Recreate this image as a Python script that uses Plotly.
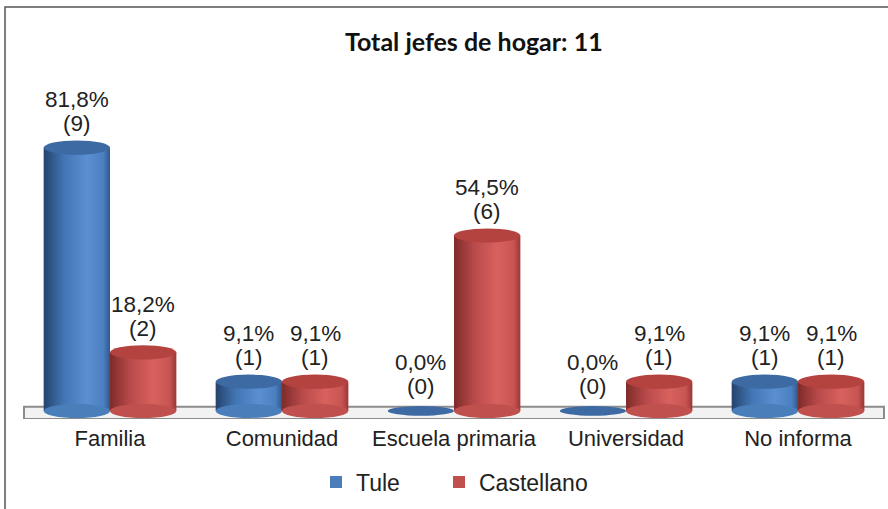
import plotly.graph_objects as go

categories = ["Familia", "Comunidad", "Escuela primaria", "Universidad", "No informa"]
series_names = ["Tule", "Castellano"]
tule_pct = [81.8, 9.1, 0.0, 0.0, 9.1]
tule_n = [9, 1, 0, 0, 1]
cast_pct = [18.2, 9.1, 54.5, 9.1, 9.1]
cast_n = [2, 1, 6, 1, 1]
title_text = "Total jefes de hogar: 11"

W, H = 888, 509
L, R, T, B = 24, 4, 89, 90
PW, PH = W - L - R, H - T - B
YMIN, YMAX = -2.5, 100.0


def xp(px):
    return (px - L) / PW


def yp(py):
    return (H - B - py) / PH


bargap = 0.23
bw = (1 - bargap) / 2
offsets = [-bw / 2, bw / 2]
cap_h = 2.2
FONT = "Liberation Sans, Arial"
TXT = "#222222"

blue = dict(body="#4a7ebb", cap="#3e6aa3",
            scale=[[0, "#26436b"], [0.3, "#4275b3"], [0.65, "#5a8fd2"], [0.9, "#4b7fc0"], [1, "#31598c"]])
red = dict(body="#c0504d", cap="#b4423f",
           scale=[[0, "#7e2b29"], [0.3, "#b8494a"], [0.65, "#d8615d"], [0.9, "#c85552"], [1, "#9a3836"]])
styles = [blue, red]
legend_refs = ["legend", "legend2"]

fig = go.Figure()
xs = list(range(len(categories)))
shapes = []
annotations = []

# floor slab
shapes.append(dict(type="rect", xref="paper", yref="y", x0=0, x1=1, y0=-2.5, y1=1.3,
                   fillcolor="#f2f2f2", line=dict(color="#8c8c8c", width=2), layer="below"))
# outer frame
shapes.append(dict(type="rect", xref="paper", yref="paper", x0=xp(5), x1=xp(893), y0=yp(515), y1=yp(7),
                   fillcolor="rgba(0,0,0,0)", line=dict(color="#555555", width=1.5), layer="below"))

for s, (name, pct, cnt) in enumerate(zip(series_names, [tule_pct, cast_pct], [tule_n, cast_n])):
    st = styles[s]
    fig.add_trace(go.Bar(name=name, x=xs, y=pct, offset=offsets[s] - bw / 2, width=bw,
                         marker=dict(color=st["body"], line=dict(width=0)), showlegend=True,
                         legend=legend_refs[s]))
    for i, (v, n) in enumerate(zip(pct, cnt)):
        cx = xs[i] + offsets[s]
        x0, x1 = cx - bw / 2, cx + bw / 2
        if v > 0:
            fig.add_trace(go.Scatter(x=[x0, x1, x1, x0, x0], y=[0, 0, v, v, 0], mode="lines",
                                     line=dict(width=0), fill="toself",
                                     fillgradient=dict(type="horizontal", colorscale=st["scale"]),
                                     showlegend=False, hoverinfo="skip"))
            shapes.append(dict(type="circle", xref="x", yref="y", x0=x0, x1=x1, y0=-cap_h, y1=cap_h,
                               fillcolor=st["body"], line=dict(width=0), layer="above"))
            shapes.append(dict(type="circle", xref="x", yref="y", x0=x0, x1=x1, y0=v - cap_h, y1=v + cap_h,
                               fillcolor=st["cap"], line=dict(width=0), layer="above"))
        else:
            shapes.append(dict(type="circle", xref="x", yref="y", x0=x0, x1=x1, y0=-1.5, y1=1.5,
                               fillcolor=st["cap"], line=dict(width=0), layer="above"))
        pct_label = f"{v:.1f}".replace(".", ",") + "%"
        cnt_label = f"({n})"
        annotations.append(dict(x=cx, y=v, xref="x", yref="y", text=pct_label, showarrow=False,
                                yanchor="middle", yshift=48,
                                font=dict(family=FONT, size=22.5, color=TXT)))
        annotations.append(dict(x=cx, y=v, xref="x", yref="y", text=cnt_label, showarrow=False,
                                yanchor="middle", yshift=24,
                                font=dict(family=FONT, size=22.5, color=TXT)))

annotations.append(dict(x=xp(474), y=yp(41), xref="paper", yref="paper", text="<b>" + title_text + "</b>",
                        showarrow=False, xanchor="center", yanchor="middle",
                        font=dict(family="Lato, Open Sans", size=25, color="#111111")))

legend_common = dict(orientation="h", yanchor="middle", y=yp(482), xanchor="left",
                     font=dict(family=FONT, size=23, color=TXT), itemwidth=30,
                     bgcolor="rgba(0,0,0,0)")

fig.update_layout(
    width=W, height=H,
    margin=dict(l=L, r=R, t=T, b=B, pad=0),
    paper_bgcolor="white", plot_bgcolor="white",
    barmode="group", bargap=bargap, bargroupgap=0,
    shapes=shapes, annotations=annotations,
    showlegend=True,
    legend=dict(x=xp(316), **legend_common),
    legend2=dict(x=xp(439), **legend_common),
    xaxis=dict(range=[-0.5, len(categories) - 0.5], tickmode="array", tickvals=xs, ticktext=categories,
               showgrid=False, zeroline=False, showline=False, ticks="outside", ticklen=0,
               tickcolor="rgba(0,0,0,0)", fixedrange=True,
               tickfont=dict(family=FONT, size=22, color=TXT)),
    yaxis=dict(range=[YMIN, YMAX], visible=False, fixedrange=True),
)

fig.write_html("out.html", config={"displayModeBar": False},
               post_script="document.body.style.margin='0px';")
